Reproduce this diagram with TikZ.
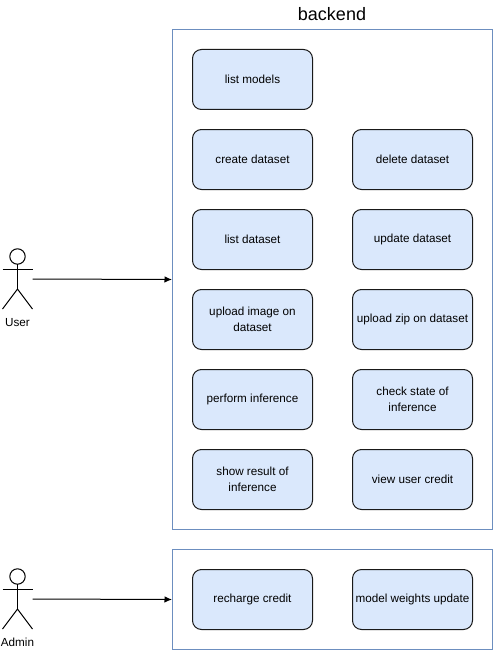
\documentclass[tikz,border=0pt]{standalone}
\usepackage{fontspec}
\setmainfont{Liberation Sans}
\usetikzlibrary{arrows.meta}
\definecolor{bluefill}{HTML}{DAE8FC}
\definecolor{blueline}{HTML}{6C8EBF}
\tikzset{
  usecase/.style={draw=black!90,line width=1pt,fill=bluefill,rounded corners=9pt,minimum width=120pt,minimum height=60pt,inner sep=0pt,align=center,font=\fontsize{11.7}{16}\selectfont,anchor=north west},
  container/.style={draw=blueline,line width=1pt,fill=white,minimum width=320pt,anchor=north west,inner sep=0pt},
  actorbox/.style={minimum width=30pt,minimum height=60pt,inner sep=0pt},
  actorline/.style={draw=black,line width=1pt},
  actorlabel/.style={font=\fontsize{11.7}{14}\selectfont,inner sep=0pt},
  flow/.style={draw=black,line width=1pt,-{Latex[length=7.5pt,width=6.5pt]}}
}
\newcommand{\stickman}[1]{%
  \draw[actorline] ([yshift=22.5pt]#1.center) circle (7.7pt);
  \draw[actorline] ([yshift=14.8pt]#1.center) -- ([yshift=-10pt]#1.center);
  \draw[actorline] ([xshift=-15pt,yshift=10pt]#1.center) -- ([xshift=15pt,yshift=10pt]#1.center);
  \draw[actorline] ([xshift=-15pt,yshift=-30pt]#1.center) -- ([yshift=-10pt]#1.center) -- ([xshift=15pt,yshift=-30pt]#1.center);
}
\begin{document}
\begin{tikzpicture}[x=1pt,y=-1pt]
\useasboundingbox (0,0) rectangle (493,666);
\fill[white] (0,0) rectangle (493,666);
\node[container,minimum height=500pt] (backend) at (172,29) {};
\node[container,minimum height=100pt] (adminbox) at (172,549) {};
\node[font=\fontsize{18}{20}\selectfont,inner sep=0pt] (title) at (332,14) {backend};
\node[usecase] (listmodels) at (192,49) {list models};
\node[usecase] (create) at (192,129) {create dataset};
\node[usecase] (delete) at (352,129) {delete dataset};
\node[usecase] (list) at (192,209) {list dataset};
\node[usecase] (update) at (352,209) {update dataset};
\node[usecase] (uploadimg) at (192,289) {upload image on\\dataset};
\node[usecase] (uploadzip) at (352,289) {upload zip on dataset};
\node[usecase] (perform) at (192,369) {perform inference};
\node[usecase] (state) at (352,369) {check state of\\inference};
\node[usecase] (result) at (192,449) {show result of\\inference};
\node[usecase] (credit) at (352,449) {view user credit};
\node[usecase] (recharge) at (192,569) {recharge credit};
\node[usecase] (weights) at (352,569) {model weights update};
\node[actorbox] (user) at (17.5,279) {};
\node[actorbox] (admin) at (17.5,599) {};
\stickman{user}
\stickman{admin}
\node[actorlabel] (userlabel) at (17.5,322.5) {User};
\node[actorlabel] (adminlabel) at (17.5,642.5) {Admin};
\draw[flow] (user.east) -- (backend.west);
\draw[flow] (admin.east) -- (adminbox.west);
\end{tikzpicture}
\end{document}
